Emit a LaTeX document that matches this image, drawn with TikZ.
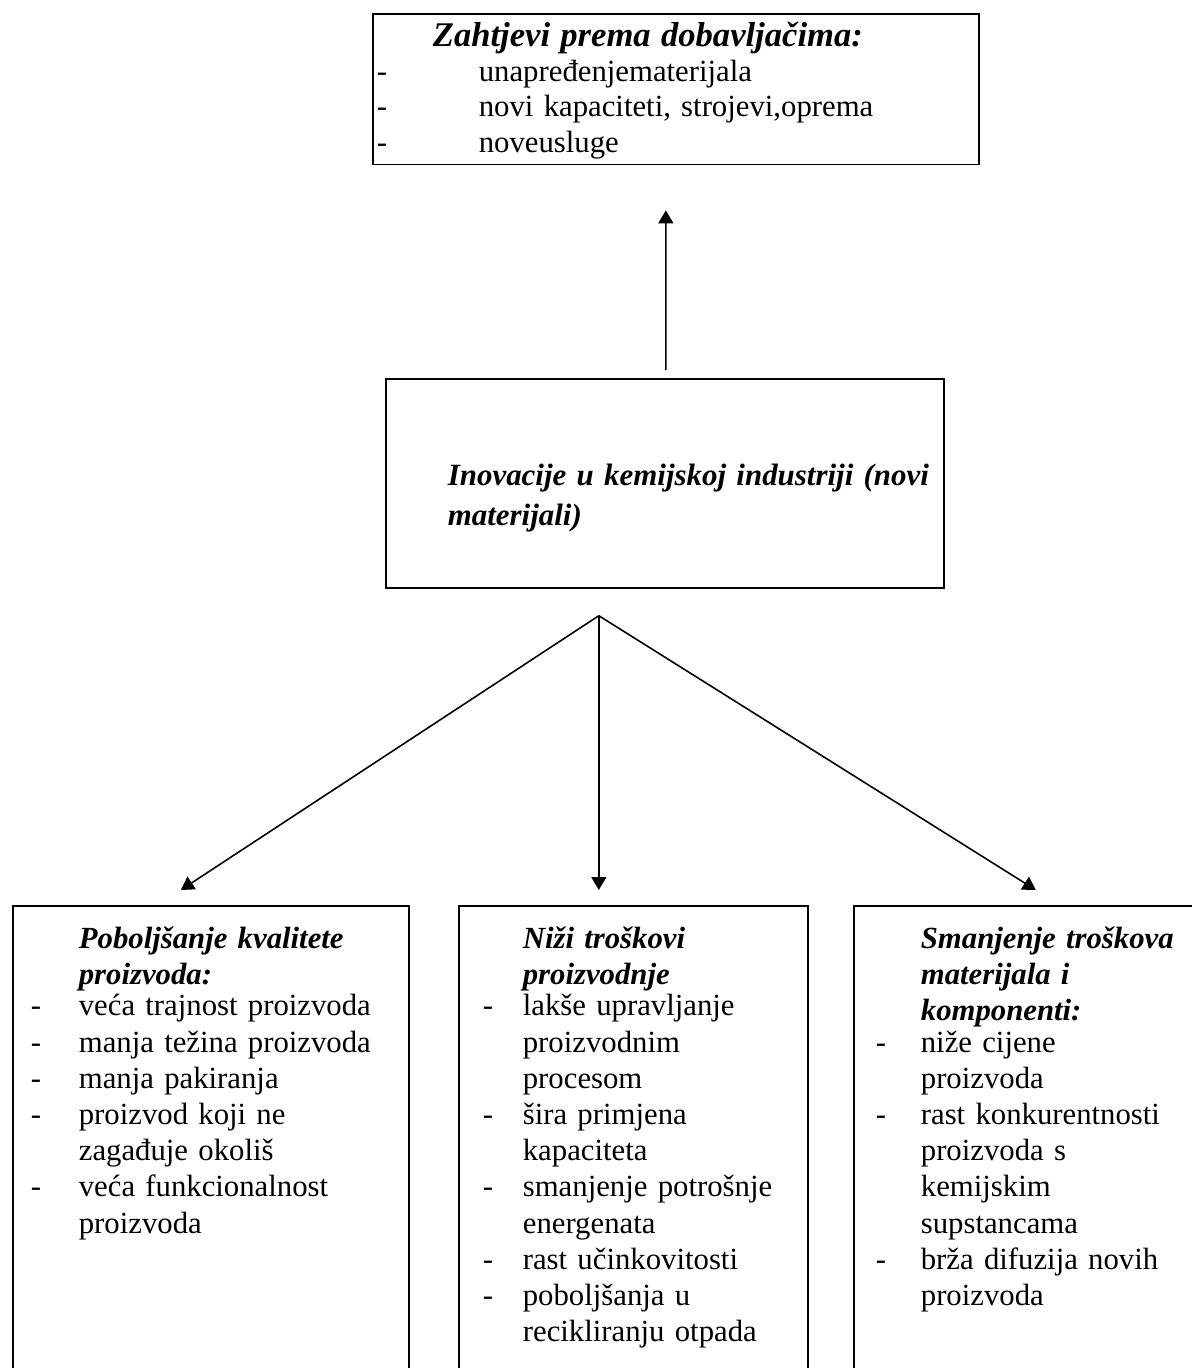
\documentclass[tikz,border=0pt]{standalone}
\usepackage{fontspec}
\setmainfont{Liberation Serif}
\usetikzlibrary{positioning,arrows.meta}

\newlength{\uvlaka}
\newcommand{\crta}{\makebox[\uvlaka][l]{-}}
\newcommand{\dalje}{\hspace*{\uvlaka}}
\newcommand{\naslov}[1]{\textbf{\textit{#1}}}

\begin{document}
\begin{tikzpicture}[x=0.02cm,y=-0.02cm,
box/.style={
rectangle,draw,line width=1pt,
align=left,anchor=north west,
font=\fontsize{17.5}{20.6}\selectfont
},
arrow/.style={-{Triangle[length=0.26cm,width=0.3cm]},line width=0.9pt}
]
\useasboundingbox (0,0) rectangle (1192,1368);

% gornji okvir
\node[box,inner xsep=0.08cm,text width=11.96cm,minimum height=3cm,text height=15pt,
  font=\fontsize{17.5}{20.1}\selectfont] (zahtjevi) at (372,13)
  {\setlength{\uvlaka}{2.04cm}%
   \hspace*{1.12cm}{\fontsize{19.7}{20.1}\selectfont\naslov{Zahtjevi prema dobavljačima:}}\\
   \crta unapređenjematerijala\\
   \crta novi kapaciteti, strojevi,oprema\\
   \crta noveusluge};

% srednji okvir
\node[box,inner xsep=0cm,text width=11.16cm,minimum height=4.18cm,text height=29pt,
  font=\fontsize{17.6}{22.8}\selectfont\bfseries\itshape] (inovacije) at (385,378)
  {\hspace*{1.24cm}\mbox{Inovacije u kemijskoj industriji (novi}\\
   \hspace*{1.24cm}\mbox{materijali)}};

% donji okviri
\node[box,inner xsep=0.36cm,inner ysep=0.42cm,text width=7.2cm,text depth=9.5cm] (poboljsanje) at (12,905)
  {\setlength{\uvlaka}{0.96cm}%
   \dalje\naslov{Poboljšanje kvalitete}\\
   \dalje\naslov{proizvoda:}\\[-0.1cm]
   \crta veća trajnost proizvoda\\
   \crta manja težina proizvoda\\
   \crta manja pakiranja\\
   \crta proizvod koji ne\\
   \dalje zagađuje okoliš\\
   \crta veća funkcionalnost\\
   \dalje proizvoda};

\node[box,inner xsep=0.48cm,inner ysep=0.42cm,text width=6.02cm,text depth=9.5cm] (troskovi) at (458,905)
  {\setlength{\uvlaka}{0.8cm}%
   \dalje\naslov{Niži troškovi}\\
   \dalje\naslov{proizvodnje}\\[-0.1cm]
   \crta lakše upravljanje\\
   \dalje proizvodnim\\
   \dalje procesom\\
   \crta šira primjena\\
   \dalje kapaciteta\\
   \crta smanjenje potrošnje\\
   \dalje energenata\\
   \crta rast učinkovitosti\\
   \crta poboljšanja u\\
   \dalje recikliranju otpada};

\node[box,inner xsep=0.44cm,inner ysep=0.42cm,text width=6.12cm,text depth=9.5cm] (smanjenje) at (853,905)
  {\setlength{\uvlaka}{0.9cm}%
   \dalje\naslov{Smanjenje troškova}\\
   \dalje\naslov{materijala i}\\
   \dalje\naslov{komponenti:}\\[-0.1cm]
   \crta niže cijene\\
   \dalje proizvoda\\
   \crta rast konkurentnosti\\
   \dalje proizvoda s\\
   \dalje kemijskim\\
   \dalje supstancama\\
   \crta brža difuzija novih\\
   \dalje proizvoda};

\coordinate (grana) at ([shift={(-66,27)}]inovacije.south);

\draw[arrow] ([shift={(1,-8)}]inovacije.north) -- ([shift={(-10,45)}]zahtjevi.south);
\draw[arrow] (grana) -- ([shift={(-30,-15)}]poboljsanje.north);
\draw[arrow] (grana) -- ([shift={(0,-15)}]grana |- troskovi.north);
\draw[arrow] (grana) -- ([shift={(7,-15)}]smanjenje.north);

\end{tikzpicture}
\end{document}
